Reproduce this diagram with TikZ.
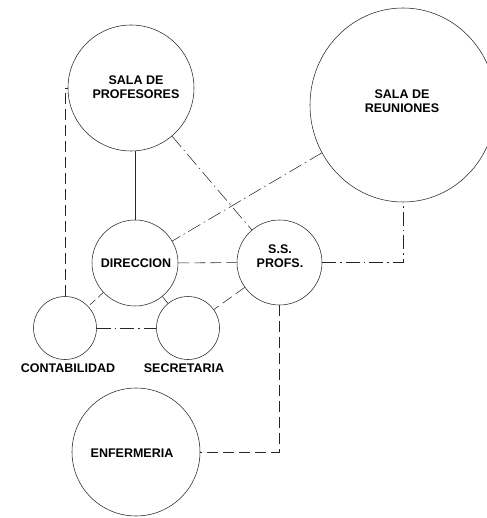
\documentclass[tikz,border=0pt]{standalone}
\usepackage{fontspec}
\setmainfont{Liberation Sans}
\usetikzlibrary{shapes.geometric}
\begin{document}
\begin{tikzpicture}[x=1pt,y=-1pt,
  room/.style={draw=black!85, line width=0.55pt, circle, inner sep=0pt},
  lbl/.style={font=\bfseries\fontsize{12.5}{14.5}\selectfont, align=center, inner sep=0pt},
  conn/.style={draw=black!85, line width=0.55pt},
  ldash/.style={conn, dash pattern=on 11pt off 5pt},
  ddot/.style={conn, dash pattern=on 14pt off 4pt on 1.5pt off 4pt},
]
\useasboundingbox (0,0) rectangle (486,518);
% rooms
\node[room, minimum size=126pt] (prof) at (131,88) {};
\node[room, shape=ellipse, minimum width=186pt, minimum height=194pt] (reun) at (403,105) {};
\node[room, minimum size=86pt] (dir) at (135,263) {};
\node[room, minimum size=85pt] (ss) at (279.5,262.5) {};
\node[room, minimum size=63pt] (con) at (65,328) {};
\node[room, minimum size=63pt] (sec) at (188,328) {};
\node[room, minimum size=128pt] (enf) at (136,452) {};
% labels
\node[lbl] (profL) at (136,87) {SALA DE\\PROFESORES};
\node[lbl] (reunL) at (402,101) {SALA DE\\REUNIONES};
\node[lbl] (dirL) at (136,263) {DIRECCION};
\node[lbl] (ssL) at (280,256) {S.S.\\PROFS.};
\node[lbl] (conL) at (68,368) {CONTABILIDAD};
\node[lbl] (secL) at (184,368) {SECRETARIA};
\node[lbl] (enfL) at (132,453) {ENFERMERIA};
% connectors
\draw[conn] (dir.north) -- (dir.north |- prof.south);
\draw[ldash] (con.north) -- (con.north |- prof.west) -- (prof.west);
\draw[ddot] (prof) -- (ss);
\draw[ddot] (reun) -- (dir);
\draw[ldash] (dir) -- (ss);
\draw[conn, dash pattern=on 7pt off 4pt] (dir) -- (con);
\draw[ldash] (dir) -- (sec);
\draw[ddot] (con) -- (sec);
\draw[ldash] (ss) -- (sec);
\draw[ddot] (ss.east) -- (ss.east -| reun.south) -- (reun.south);
\draw[ldash] (ss.south) -- (ss.south |- enf.east) -- (enf.east);
\end{tikzpicture}
\end{document}
